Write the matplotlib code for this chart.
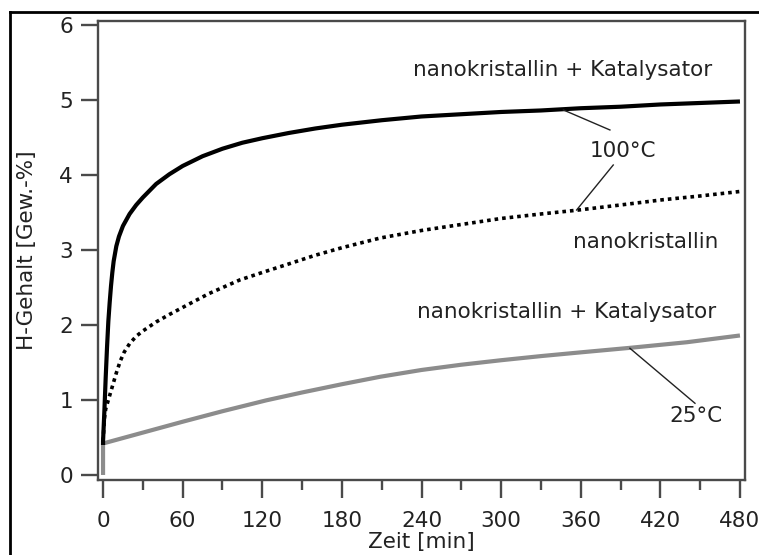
"""
hydrogen_uptake.py

H-Gehalt vs. Zeit fuer nanokristalline Proben
"""

import numpy as np
import matplotlib
matplotlib.use("Agg")
import matplotlib.pyplot as plt
from matplotlib.lines import Line2D

plt.rcParams['font.family'] = ['DejaVu Sans']

# nanokristallin + Katalysator, 100 C
t_kat100 = [0, 0, 1, 2, 3, 4, 5, 6, 7, 8, 10, 12, 15, 20, 25, 30, 40, 50, 60,
            75, 90, 105, 120, 140, 160, 180, 210, 240, 270, 300, 330, 360,
            390, 420, 450, 480]
h_kat100 = [0.40, 0.45, 0.85, 1.30, 1.70, 2.05, 2.30, 2.52, 2.70, 2.85, 3.05,
            3.18, 3.32, 3.48, 3.60, 3.70, 3.88, 4.01, 4.12, 4.25, 4.35, 4.43,
            4.49, 4.56, 4.62, 4.67, 4.73, 4.78, 4.81, 4.84, 4.86, 4.89, 4.91,
            4.94, 4.96, 4.98]

# nanokristallin, 100 C
t_nano100 = [0, 1, 2, 4, 6, 8, 10, 13, 16, 20, 25, 30, 40, 50, 66, 80, 103,
             120, 141, 160, 180, 209, 240, 270, 300, 330, 357, 390, 422, 450,
             480]
h_nano100 = [0.45, 0.75, 0.88, 1.00, 1.12, 1.24, 1.36, 1.52, 1.64, 1.75, 1.85,
             1.92, 2.04, 2.14, 2.29, 2.42, 2.60, 2.70, 2.82, 2.93, 3.03, 3.16,
             3.26, 3.34, 3.42, 3.48, 3.53, 3.60, 3.67, 3.72, 3.78]

# nanokristallin + Katalysator, 25 C
t_kat25 = [0, 0, 30, 60, 90, 123, 150, 180, 209, 240, 270, 300, 330, 360, 397,
           440, 480]
h_kat25 = [0.0, 0.42, 0.565, 0.71, 0.85, 0.995, 1.10, 1.21, 1.31, 1.40, 1.47,
           1.53, 1.585, 1.635, 1.695, 1.77, 1.86]

xticks = [0, 60, 120, 180, 240, 300, 360, 420, 480]
yticks = [0, 1, 2, 3, 4, 5, 6]

FS = 15.5
AX_COL = '#4a4a4a'
TXT_COL = '#222222'

fig = plt.figure(figsize=(7.59, 5.55), dpi=100)
ax = fig.add_axes([98 / 759, 75 / 555, 647 / 759, 459 / 555])

ax.plot(t_kat25, h_kat25, color='#8c8c8c', lw=3.0, solid_capstyle='butt',
        solid_joinstyle='round')
ax.plot(t_nano100, h_nano100, color='black', lw=2.6, linestyle=(0, (1, 1.1)))
ax.plot(t_kat100, h_kat100, color='black', lw=3.0, solid_capstyle='butt',
        solid_joinstyle='round')

ax.set_xlim(-3.8, 483.8)
ax.set_ylim(-0.067, 6.053)
ax.set_xticks(xticks)
ax.set_xticks(np.arange(30, 480, 60), minor=True)
ax.set_yticks(yticks)

for sp in ax.spines.values():
    sp.set_color(AX_COL)
    sp.set_linewidth(1.7)

ax.tick_params(axis='both', which='major', color=AX_COL, width=1.7,
               labelsize=FS, labelcolor=TXT_COL)
ax.tick_params(axis='x', which='major', length=13, pad=9)
ax.tick_params(axis='x', which='minor', length=7, width=1.7, color=AX_COL)
ax.tick_params(axis='y', which='major', length=12, pad=6)

ax.set_xlabel('Zeit [min]', fontsize=FS, color=TXT_COL, labelpad=1)
ax.set_ylabel('H-Gehalt [Gew.-%]', fontsize=FS, color=TXT_COL, labelpad=16)

# curve labels
ax.text(346.6, 5.4, 'nanokristallin + Katalysator', fontsize=FS,
        color=TXT_COL, ha='center', va='center')
ax.text(391.8, 4.32, '100°C', fontsize=FS, color=TXT_COL,
        ha='center', va='center')
ax.text(409, 3.10, 'nanokristallin', fontsize=FS, color=TXT_COL,
        ha='center', va='center')
ax.text(349, 2.17, 'nanokristallin + Katalysator', fontsize=FS,
        color=TXT_COL, ha='center', va='center')
ax.text(446.8, 0.78, '25°C', fontsize=FS, color=TXT_COL,
        ha='center', va='center')

# leader lines
ax.plot([346.9, 382.0], [4.867, 4.60], color='#222222', lw=1.0)
ax.plot([384.5, 356.9], [4.133, 3.533], color='#222222', lw=1.0)
ax.plot([397.1, 446.1], [1.689, 0.956], color='#222222', lw=1.0)

# frame around the figure (left and top edges)
fig.add_artist(Line2D([9.5 / 759, 9.5 / 759], [0, 1 - 12 / 555],
                      color='black', lw=2.0))
fig.add_artist(Line2D([9.5 / 759, 1], [1 - 12 / 555, 1 - 12 / 555],
                      color='black', lw=2.0))

fig.savefig('out.png', dpi=100, facecolor='white')
